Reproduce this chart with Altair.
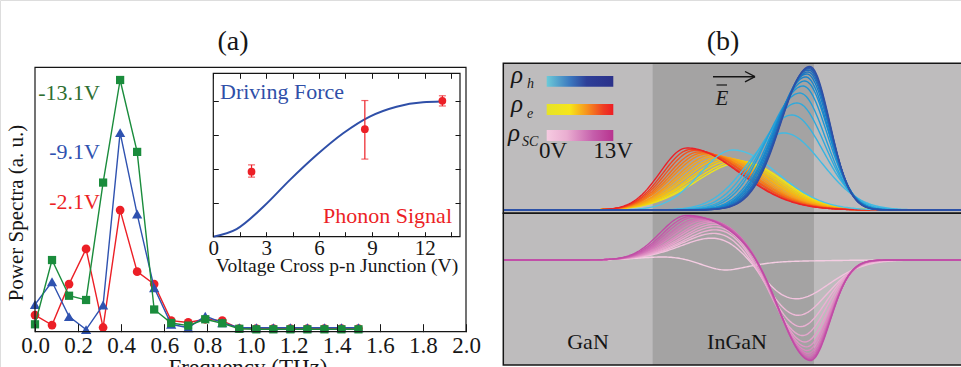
import numpy as np
import pandas as pd
import altair as alt

SERIF = "Liberation Serif"
INK = "#161616"

# ---------------- panel (a): power spectra ----------------
freq = [0.000, 0.079, 0.158, 0.237, 0.316, 0.395, 0.474, 0.553, 0.632, 0.711,
        0.790, 0.869, 0.948, 1.027, 1.106, 1.185, 1.264, 1.343, 1.422, 1.501]
p_m13 = [2.8, 27.1, 13.6, 12.0, 56.4, 95.2, 68.0, 8.4, 3.3, 2.3,
         4.7, 3.2, 1.1, 0.9, 0.9, 0.9, 0.9, 0.9, 0.9, 0.9]
p_m9 = [10.3, 18.9, 5.7, 0.8, 10.1, 75.3, 44.5, 16.6, 2.8, 1.5,
        5.9, 3.4, 1.5, 1.5, 1.5, 1.5, 1.5, 1.5, 1.5, 1.5]
p_m2 = [6.3, 2.5, 18.0, 31.3, 1.6, 46.0, 22.7, 18.0, 4.2, 3.5,
        4.7, 4.2, 1.2, 1.2, 1.2, 1.2, 1.2, 1.2, 1.2, 1.2]
freq_ticks = [0.0, 0.2, 0.4, 0.6, 0.8, 1.0, 1.2, 1.4, 1.6, 1.8, 2.0]

# inset: driving force vs phonon signal
drive_v = [0.0, 1.32, 2.84, 4.35, 5.86, 7.37, 8.88, 10.4, 11.9, 12.95]
drive_f = [0.0, 0.225, 0.88, 1.67, 2.40, 3.04, 3.53, 3.82, 3.95, 3.97]
phon_v = [2.17, 8.6, 13.0]
phon_s = [1.91, 3.16, 3.99]
phon_lo = [1.75, 2.28, 3.84]
phon_hi = [2.11, 4.00, 4.14]
inset_labels = [0, 3, 6, 9, 12]
inset_minor = [0.0, 1.5, 3.0, 4.5, 6.0, 7.5, 9.0, 10.5, 12.0, 13.5]
inset_yticks = [1, 2, 3, 4]

# ---------------- panel (b): carrier densities ----------------
volts = list(range(14))
h_c = [4.98, 8.14, 8.64, 8.95, 9.13, 9.32, 9.44, 9.50, 9.57, 9.63, 9.66, 9.69, 9.72, 9.75]
h_a = [0.418, 0.537, 0.662, 0.746, 0.815, 0.864, 0.899, 0.927, 0.948, 0.962, 0.976, 0.986, 0.993, 1.0]
h_sl = [2.05, 2.23, 2.17, 2.11, 2.05, 1.98, 1.95, 1.92, 1.89, 1.86, 1.84, 1.82, 1.81, 1.80]
h_sr = [2.79, 2.36, 1.98, 1.74, 1.61, 1.52, 1.46, 1.39, 1.36, 1.33, 1.30, 1.28, 1.26, 1.24]
e_c = [5.60, 5.35, 5.04, 4.79, 4.48, 4.23, 3.92, 3.68, 3.37, 3.12, 2.87, 2.62, 2.37, 2.13]
e_a = [0.334, 0.341, 0.348, 0.355, 0.362, 0.369, 0.376, 0.383, 0.390, 0.397, 0.404, 0.415, 0.422, 0.432]
e_sl = [2.85, 2.76, 2.67, 2.57, 2.48, 2.39, 2.29, 2.20, 2.11, 2.01, 1.92, 1.83, 1.74, 1.67]
e_sr = [2.54, 2.60, 2.67, 2.70, 2.76, 2.82, 2.88, 2.91, 2.98, 3.04, 3.07, 3.13, 3.16, 3.22]
well = [0.0, 10.0]          # InGaN layer (nm)
depth = [-9.26, 19.12]      # visible depth range (nm)

# ---------------- build tables ----------------
df_a = pd.DataFrame({"f": freq, "m13": p_m13, "m9": p_m9, "m2": p_m2})
df_drive = pd.DataFrame({"v": drive_v, "f": drive_f})
df_phon = pd.DataFrame({"v": phon_v, "s": phon_s, "lo": phon_lo, "hi": phon_hi})

xs = np.round(np.arange(depth[0], depth[1] + 0.05, 0.1), 3)


def profile(x, c, a, sl, sr):
    s = np.where(x < c, sl, sr)
    return a * np.exp(-((x - c) ** 2) / (2 * s ** 2))


rows = []
for i, v in enumerate(volts):
    hh = profile(xs, h_c[i], h_a[i], h_sl[i], h_sr[i])
    ee = profile(xs, e_c[i], e_a[i], e_sl[i], e_sr[i])
    rows.append(pd.DataFrame({"x": xs, "V": v, "h": hh, "e": ee, "sc": ee - hh}))
df_b = pd.concat(rows, ignore_index=True)

# ---------------- scales ----------------
FX = alt.Scale(domain=[0, 2], range=[35, 466], nice=False, zero=False)
FY = alt.Scale(domain=[0, 100], range=[331.7, 67.3], nice=False, zero=False)
IX = alt.Scale(domain=[0, 14], range=[213.3, 460], nice=False, zero=False)
IY = alt.Scale(domain=[0, 4.8], range=[236.7, 73.3], nice=False, zero=False)
XB = alt.Scale(domain=depth, range=[503.3, 961], nice=False, zero=False)
YT = alt.Scale(domain=[0, 1], range=[210, 66.5], nice=False, zero=False)
YB = alt.Scale(domain=[-1, 0.45], range=[363.3, 213.5], nice=False, zero=False)


def tick_axis(orient, offset, values, size=5):
    return alt.Axis(orient=orient, offset=offset, values=values, labels=False,
                    domain=False, grid=False, title=None, ticks=True,
                    tickSize=size, tickColor=INK, tickWidth=1, zindex=2)


def label_axis(offset, values, fmt, size, pad):
    return alt.Axis(orient="bottom", offset=offset, values=values, format=fmt,
                    ticks=False, tickSize=0, domain=False, grid=False, title=None,
                    labelFont=SERIF, labelFontSize=size, labelColor=INK,
                    labelPadding=pad, labelFlush=False, labelOverlap=False,
                    labelBound=False, zindex=2)


def txt(s, x, y, size=21, color=INK, align="center", baseline="middle",
        style="normal", angle=0):
    return alt.Chart(pd.DataFrame({"t": [s]})).mark_text(
        font=SERIF, fontSize=size, color=color, align=align,
        baseline=baseline, fontStyle=style, angle=angle
    ).encode(x=alt.value(x), y=alt.value(y), text="t:N")


def seg(x1, y1, x2, y2, w=1.4, color=INK):
    return alt.Chart(pd.DataFrame({"a": [0]})).mark_rule(
        strokeWidth=w, color=color
    ).encode(x=alt.value(x1), y=alt.value(y1), x2=alt.value(x2), y2=alt.value(y2))


def box(x0, x1, y0, y1, xs_, ys_, **mk):
    d = pd.DataFrame({"x0": [x0], "x1": [x1], "y0": [y0], "y1": [y1]})
    return alt.Chart(d).mark_rect(**mk).encode(
        x=alt.X("x0:Q", scale=xs_, axis=None), x2="x1:Q",
        y=alt.Y("y0:Q", scale=ys_, axis=None), y2="y1:Q")


def gbar(stops, y1, y2):
    grad = alt.Gradient(gradient="linear",
                        stops=[alt.GradientStop(color=c, offset=o) for o, c in stops],
                        x1=0, x2=1, y1=0, y2=0)
    return alt.Chart(pd.DataFrame({"a": [0]})).mark_rect(color=grad).encode(
        x=alt.value(546.7), x2=alt.value(613.3), y=alt.value(y1), y2=alt.value(y2))


layers = []

# ---------------- panel (a) main ----------------
series = [("m2", "#ec1f26", "circle", 76),
          ("m9", "#2f52b0", "triangle-up", 105),
          ("m13", "#1a8c3c", "square", 68)]
for k, (col, colr, shp, sz) in enumerate(series):
    ax_l = label_axis(-35.3, freq_ticks, ".1f", 23, 3) if k == 0 else None
    ax_t = tick_axis("top", -331.7, freq_ticks, 8) if k == 0 else None
    layers.append(alt.Chart(df_a).mark_line(color=colr, strokeWidth=1.4).encode(
        x=alt.X("f:Q", scale=FX, axis=ax_l),
        y=alt.Y(f"{col}:Q", scale=FY, axis=None)))
    layers.append(alt.Chart(df_a).mark_point(
        shape=shp, filled=True, size=sz, color=colr, opacity=1).encode(
        x=alt.X("f:Q", scale=FX, axis=ax_t),
        y=alt.Y(f"{col}:Q", scale=FY, axis=None)))

layers.append(box(0, 2, 0, 100, FX, FY, fillOpacity=0, stroke=INK, strokeWidth=1.2))

layers += [
    txt("-13.1V", 100, 93, 22, "#2e6e31", align="right"),
    txt("-9.1V", 100, 152, 22, "#2f52b0", align="right"),
    txt("-2.1V", 100, 202, 22, "#ec1f26", align="right"),
    txt("Power Spectra (a. u.)", 17, 213, 21, angle=270),
    txt("Frequency (THz)", 248, 375, 23, baseline="alphabetic"),
    txt("(a)", 233, 42, 28),
    txt("(b)", 723, 42, 28),
]

# ---------------- inset ----------------
layers.append(box(0, 14, 0, 4.8, IX, IY, fill="white", stroke=INK, strokeWidth=1.2))
layers.append(alt.Chart(df_drive).mark_line(
    color="#2f4fa8", strokeWidth=2, interpolate="monotone").encode(
    x=alt.X("v:Q", scale=IX, axis=label_axis(-130.3, inset_labels, "d", 21, 1)),
    y=alt.Y("f:Q", scale=IY, axis=tick_axis("right", -747.7, inset_yticks))))
layers.append(alt.Chart(df_phon).mark_rule(color="#ec1f26", strokeWidth=1.2).encode(
    x=alt.X("v:Q", scale=IX, axis=tick_axis("bottom", -293.7, inset_minor)),
    y=alt.Y("lo:Q", scale=IY, axis=None), y2="hi:Q"))
for end in ["lo", "hi"]:
    layers.append(alt.Chart(df_phon).mark_tick(
        color="#ec1f26", orient="horizontal", size=7, thickness=1.2).encode(
        x=alt.X("v:Q", scale=IX, axis=None),
        y=alt.Y(f"{end}:Q", scale=IY, axis=None)))
layers.append(alt.Chart(df_phon).mark_point(
    shape="circle", filled=True, size=60, color="#ec1f26", opacity=1).encode(
    x=alt.X("v:Q", scale=IX, axis=tick_axis("top", -236.7, inset_minor)),
    y=alt.Y("s:Q", scale=IY, axis=tick_axis("left", -460, inset_yticks))))
layers += [
    txt("Driving Force", 220, 92, 22, "#2f4fa8", align="left"),
    txt("Phonon Signal", 452, 216, 22, "#ec1f26", align="right"),
    txt("Voltage Cross p-n Junction (V)", 337, 272, 19.5, baseline="alphabetic"),
]

# ---------------- panel (b) ----------------
TOP = (-0.023, 1.022)
BOT = (-1.016, 0.452)
layers.append(box(depth[0], 19.6, TOP[0], TOP[1], XB, YT, color="#bebcbd"))
layers.append(box(depth[0], 19.6, BOT[0], BOT[1], XB, YB, color="#bebcbd"))
layers.append(box(well[0], well[1], TOP[0], TOP[1], XB, YT, color="#a4a3a3"))
layers.append(box(well[0], well[1], BOT[0], BOT[1], XB, YB, color="#a4a3a3"))

fam = [("e", YT, [0, 6.5, 13], ["#ece51e", "#f8a01c", "#eb2127"]),
       ("h", YT, [0, 13], ["#4cc3e6", "#2f4fa5"]),
       ("sc", YB, [0, 13], ["#f5cde3", "#c04ca6"])]
for col, ysc, dom, rng in fam:
    layers.append(alt.Chart(df_b).mark_line(strokeWidth=1.4).encode(
        x=alt.X("x:Q", scale=XB, axis=None),
        y=alt.Y(f"{col}:Q", scale=ysc, axis=None),
        color=alt.Color("V:Q", scale=alt.Scale(domain=dom, range=rng), legend=None),
        detail="V:N"))

layers.append(box(depth[0], 19.6, TOP[0], TOP[1], XB, YT,
                  fillOpacity=0, stroke=INK, strokeWidth=1.5))
layers.append(box(depth[0], 19.6, BOT[0], BOT[1], XB, YB,
                  fillOpacity=0, stroke=INK, strokeWidth=1.5))

layers += [
    gbar([(0, "#6ccad8"), (0.35, "#3b78bf"), (0.6, "#2e3f98"), (1, "#2b318a")], 76, 86.7),
    gbar([(0, "#e6e328"), (0.35, "#f6e51a"), (0.6, "#f7931e"), (0.85, "#ef3d23"), (1, "#ed1c24")], 104, 115),
    gbar([(0, "#f6cbe1"), (0.3, "#eaaed1"), (0.7, "#c55eab"), (1, "#b8338f")], 130, 141),
    txt("ρ", 511, 83, 25, align="left", baseline="alphabetic", style="italic"),
    txt("h", 527, 88, 14, align="left", baseline="alphabetic", style="italic"),
    txt("ρ", 511, 112, 25, align="left", baseline="alphabetic", style="italic"),
    txt("e", 527, 118, 14, align="left", baseline="alphabetic", style="italic"),
    txt("ρ", 508, 141, 25, align="left", baseline="alphabetic", style="italic"),
    txt("SC", 522, 146, 14, align="left", baseline="alphabetic", style="italic"),
    txt("0V", 553, 158, 23, baseline="alphabetic"),
    txt("13V", 613, 158, 23, baseline="alphabetic"),
    seg(713, 76.7, 755, 76.7),
    seg(755, 76.7, 745, 71.5),
    seg(755, 76.7, 745, 81.9),
    seg(716.5, 85, 727, 85, 1.2),
    txt("E", 722, 105, 21, align="center", baseline="alphabetic", style="italic"),
    txt("GaN", 588, 342, 22),
    txt("InGaN", 737, 342, 22),
]

chart = alt.layer(*layers).resolve_scale(
    x="independent", y="independent", color="independent"
).properties(
    width=961, height=367, padding=0,
    autosize=alt.AutoSizeParams(type="none"),
).configure_view(stroke=None).configure(background="white")

chart.save("out.html", embed_options={"renderer": "svg", "actions": False})
